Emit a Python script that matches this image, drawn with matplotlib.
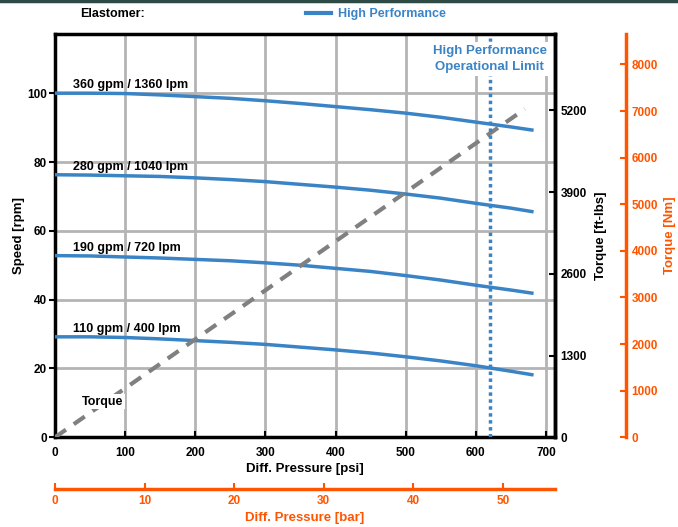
import matplotlib.pyplot as plt
from matplotlib.lines import Line2D

# curve data
psi = [0, 50, 100, 150, 200, 250, 300, 350, 400, 450, 500, 550, 600, 650, 680]
speed_360 = [100.0, 100.0, 99.9, 99.5, 99.0, 98.5, 97.8, 97.0, 96.1, 95.2, 94.2, 93.0, 91.6, 90.2, 89.3]
speed_280 = [76.3, 76.2, 76.0, 75.8, 75.4, 74.9, 74.3, 73.5, 72.7, 71.8, 70.7, 69.5, 68.0, 66.6, 65.6]
speed_190 = [52.8, 52.7, 52.4, 52.1, 51.7, 51.3, 50.7, 50.0, 49.1, 48.2, 47.0, 45.7, 44.2, 42.8, 41.9]
speed_110 = [29.2, 29.2, 29.0, 28.6, 28.1, 27.6, 27.0, 26.2, 25.4, 24.5, 23.4, 22.2, 20.8, 19.2, 18.2]
curve_labels = ['360 gpm / 1360 lpm', '280 gpm / 1040 lpm', '190 gpm / 720 lpm', '110 gpm / 400 lpm']

torque_psi = [0, 670]
torque_ftlbs = [0, 5220]
limit_psi = 620

psi_ticks = [0, 100, 200, 300, 400, 500, 600, 700]
rpm_ticks = [0, 20, 40, 60, 80, 100]
ftlbs_ticks = [0, 1300, 2600, 3900, 5200]
nm_ticks = [0, 1000, 2000, 3000, 4000, 5000, 6000, 7000, 8000]
bar_ticks = [0, 10, 20, 30, 40, 50]

BLUE = '#3a84c6'
ORANGE = '#ff5500'
GRID = '#b4b4b4'

plt.rcParams['font.family'] = ['Liberation Sans', 'DejaVu Sans']
plt.rcParams['font.weight'] = 'bold'

fig = plt.figure(figsize=(6.78, 5.27), dpi=100)
ax = fig.add_axes([55/678, 1-437.3/527, 500/678, 403.3/527])

ax.set_xlim(0, 713)
ax.set_ylim(0, 117.2)
ax.set_xticks(psi_ticks)
ax.set_yticks(rpm_ticks)
ax.grid(True, color=GRID, lw=2)
ax.set_axisbelow(True)
ax.tick_params(labelsize=8.5, length=4, width=1.5, colors='black')
ax.tick_params(axis='x', direction='in', pad=7)
ax.tick_params(axis='y', direction='out', pad=2)
for s in ax.spines.values():
    s.set_linewidth(2.5)
ax.set_xlabel('Diff. Pressure [psi]', fontsize=9.5, fontweight='bold', labelpad=3)
ax.set_ylabel('Speed [rpm]', fontsize=9.5, fontweight='bold', labelpad=1)

for ys, lab in zip([speed_360, speed_280, speed_190, speed_110], curve_labels):
    ax.plot(psi, ys, color=BLUE, lw=2.5, zorder=3)
    ax.text(25, ys[0] + 0.6, lab, fontsize=9, fontweight='bold', va='bottom', ha='left', zorder=5)

# torque (ft-lbs) axis
ax2 = ax.twinx()
ax2.set_ylim(0, 6413)
ax2.set_yticks(ftlbs_ticks)
ax2.tick_params(labelsize=8.5, direction='in', length=4, width=1.5, pad=4)
for s in ax2.spines.values():
    s.set_visible(False)
ax2.spines['right'].set_visible(True)
ax2.spines['right'].set_linewidth(2.5)
ax2.set_ylabel('Torque [ft-lbs]', fontsize=9.5, fontweight='bold', labelpad=6)
ax2.plot(torque_psi, torque_ftlbs, color='#808080', lw=3, dashes=(3.2, 2.3), zorder=2)
ax2.set_zorder(ax.get_zorder() + 1)
ax2.patch.set_visible(False)

ax2.text(68, 10.3 / 117.2 * 6413, 'Torque', fontsize=9, fontweight='bold', ha='center', va='center',
         bbox=dict(facecolor='white', edgecolor='none', pad=1), zorder=5)

# operational limit
ax2.axvline(limit_psi, color=BLUE, lw=2.5, ls=(0, (1, 1)), ymax=0.99, zorder=4)
ax2.text(limit_psi, 6016, 'High Performance\nOperational Limit', color=BLUE, fontsize=9.5,
         fontweight='bold', ha='center', va='center', linespacing=1.45,
         bbox=dict(facecolor='white', edgecolor='none', pad=2), zorder=6)

# torque (Nm) axis
ax3 = ax.twinx()
ax3.set_ylim(0, 8654)
ax3.set_yticks(nm_ticks)
for s in ax3.spines.values():
    s.set_visible(False)
ax3.spines['right'].set_visible(True)
ax3.spines['right'].set_position(('axes', 1.142))
ax3.spines['right'].set_color(ORANGE)
ax3.spines['right'].set_linewidth(2.5)
ax3.tick_params(labelsize=8.5, direction='in', length=4, width=1.5, colors=ORANGE, pad=4)
ax3.set_ylabel('Torque [Nm]', fontsize=9.5, fontweight='bold', color=ORANGE, labelpad=4)

# pressure (bar) axis
ax4 = ax.twiny()
ax4.set_xlim(0, 55.8)
ax4.set_xticks(bar_ticks)
for s in ax4.spines.values():
    s.set_visible(False)
ax4.xaxis.set_ticks_position('bottom')
ax4.xaxis.set_label_position('bottom')
ax4.spines['bottom'].set_visible(True)
ax4.spines['bottom'].set_position(('outward', 37.4))
ax4.spines['bottom'].set_color(ORANGE)
ax4.spines['bottom'].set_linewidth(2.5)
ax4.tick_params(axis='x', labelsize=8.5, direction='in', length=4, width=1.5, colors=ORANGE, pad=4)
ax4.set_xlabel('Diff. Pressure [bar]', fontsize=9.5, fontweight='bold', color=ORANGE, labelpad=4)

# header
fig.text(80/678, 1-14/527, 'Elastomer:', fontsize=9, fontweight='bold', ha='left', va='center')
fig.legend([Line2D([0], [0], color=BLUE, lw=3)], ['High Performance'], loc='center',
           bbox_to_anchor=(376/678, 1-14/527), frameon=False, fontsize=9, handlelength=2.0,
           handletextpad=0.6, labelcolor=BLUE, prop={'weight': 'bold', 'size': 9})
fig.add_artist(Line2D([0, 1], [0.998, 0.998], color='#2d4a44', lw=2.5, transform=fig.transFigure))

fig.savefig('out.png', dpi=100)
